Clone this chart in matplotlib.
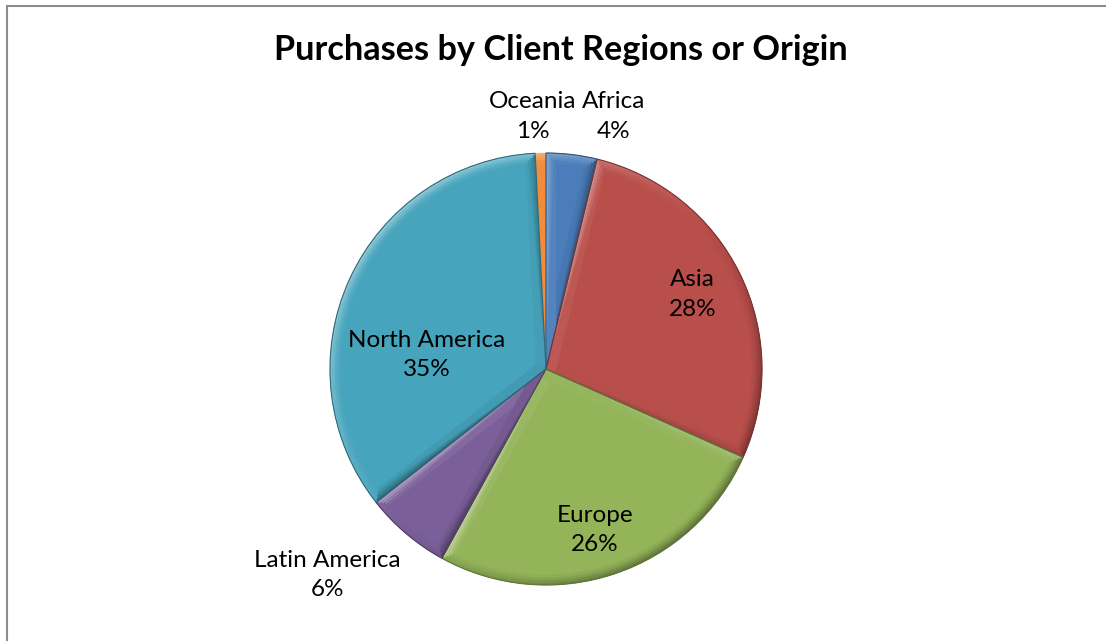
import numpy as np
import matplotlib.pyplot as plt
import matplotlib.colors as mcolors
from matplotlib.patches import Wedge, Polygon, Rectangle

regions = ['Africa', 'Asia', 'Europe', 'Latin America', 'North America', 'Oceania']
shares = [3.8, 27.9, 26.3, 6.4, 34.8, 0.8]
colors = ['#4a7dba', '#b94f4b', '#94b45a', '#7b5f9a', '#46a4bc', '#f08c3c']

# label placement: distance as fraction of radius, shift from slice middle (deg, clockwise)
label_r = [1.21, 0.76, 0.78, 1.39, 0.555, 1.17]
label_shift = [8.2, -0.8, 1.6, 6.4, -17.8, -1.5]

W, H = 1106, 641
cx, cy, R = 546, H - 369, 216
plt.rcParams['font.family'] = ['Lato', 'DejaVu Sans']


def shade(c, k):
    rgb = np.array(mcolors.to_rgb(c))
    if k >= 0:
        return tuple(rgb + (1 - rgb) * k)
    return tuple(rgb * (1 + k))


def light(a):
    # how much a surface facing direction a (deg) faces the light at upper left
    return np.cos(np.radians(a - 135))


fig = plt.figure(figsize=(W / 100, H / 100), dpi=100)
ax = fig.add_axes([0, 0, 1, 1])
wedges, _ = ax.pie(shares, colors=colors, startangle=90, counterclock=False,
                   center=(cx, cy), radius=R, wedgeprops=dict(edgecolor='none', zorder=1))
ax.set_xlim(0, W)
ax.set_ylim(0, H)
ax.set_aspect('equal')
ax.axis('off')

# bevel look: shaded bands along outer arc and straight edges
bands = [(2.5, 1.0), (2.5, 0.7), (2.5, 0.4), (2.5, 0.15)]
for w, c in zip(wedges, colors):
    t1, t2 = w.theta1, w.theta2
    span = t2 - t1
    r0 = R
    for bw, k in bands:
        steps = max(2, int(span / 1.5))
        edges = np.linspace(t1, t2, steps + 1)
        for a0, a1 in zip(edges[:-1], edges[1:]):
            l = light((a0 + a1) / 2)
            col = shade(c, 0.4 * k * l if l > 0 else 0.35 * k * l)
            ax.add_patch(Wedge((cx, cy), r0, a0, a1, width=bw, facecolor=col,
                               edgecolor=col, lw=0.3, zorder=2))
        r0 -= bw
    if span < 5:
        continue
    for t, nrm in [(t1, t1 - 90), (t2, t2 + 90)]:
        u = np.array([np.cos(np.radians(t)), np.sin(np.radians(t))])
        n_in = -np.array([np.cos(np.radians(nrm)), np.sin(np.radians(nrm))])
        l = light(nrm)
        off = 0
        for bw, k in bands:
            col = shade(c, 0.4 * k * l if l > 0 else 0.35 * k * l)
            s = (off + bw) / np.tan(np.radians(min(span, 89)))
            p0 = np.array([cx, cy]) + u * s + n_in * off
            p1 = np.array([cx, cy]) + u * (R - off - 2) + n_in * off
            pts = [np.array([cx, cy]), p1, p1 + n_in * bw, p0 + n_in * bw]
            ax.add_patch(Polygon(pts, closed=True, facecolor=col, edgecolor='none', zorder=2))
            off += bw
    ax.add_patch(Wedge((cx, cy), R, t1, t2, facecolor='none',
                       edgecolor=shade(c, -0.35), lw=0.8, zorder=3))

for w, name, s, lr, sh in zip(wedges, regions, shares, label_r, label_shift):
    a = np.radians((w.theta1 + w.theta2) / 2 - sh)
    ax.text(cx + lr * R * np.cos(a), cy + lr * R * np.sin(a), f'{name}\n{s:.0f}%',
            ha='center', va='center', fontsize=17.5, linespacing=1.5, zorder=5)

fig.text(561 / W, 1 - 50 / H, 'Purchases by Client Regions or Origin',
         ha='center', va='center', fontsize=24.7, fontweight='bold')

ax.add_patch(Rectangle((7, -20), W + 20, H - 6 + 20, fill=False,
                       edgecolor='#8c8c8c', lw=1.5, zorder=6))

fig.savefig('out.png', dpi=100)
